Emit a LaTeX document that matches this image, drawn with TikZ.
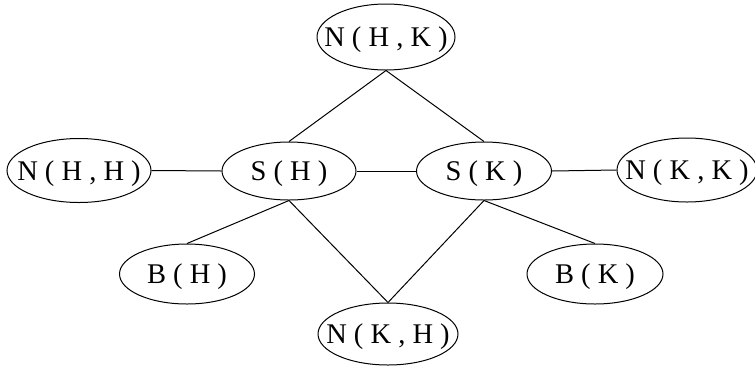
\documentclass[tikz,border=0pt]{standalone}
\usepackage{fontspec}
\setmainfont{Liberation Serif}
\usetikzlibrary{shapes.geometric}
\newcommand{\ellab}[1]{\makebox[0pt]{#1}}
\begin{document}
\begin{tikzpicture}[x=1pt,y=-1pt,
  ell/.style={draw, ellipse, line width=1pt, inner sep=0pt,
    text height=19pt, text depth=0pt,
    font=\fontsize{28.5}{32}\selectfont},
  edge/.style={draw, line width=1pt}]
\useasboundingbox (0,0) rectangle (755,365);
\node[ell, minimum width=138pt, minimum height=66pt] (NHK) at (386,37) {\ellab{N ( H , K )}};
\node[ell, minimum width=144pt, minimum height=64pt] (NHH) at (79,170.5) {\ellab{N ( H , H )}};
\node[ell, minimum width=134pt, minimum height=58pt] (SH) at (289,171) {\ellab{S ( H )}};
\node[ell, minimum width=135pt, minimum height=58pt] (SK) at (484,171) {\ellab{S ( K )}};
\node[ell, minimum width=140pt, minimum height=64pt] (NKK) at (687,170) {\ellab{N ( K , K )}};
\node[ell, minimum width=135pt, minimum height=60pt] (BH) at (187,274) {\ellab{B ( H )}};
\node[ell, minimum width=136pt, minimum height=60pt] (BK) at (595,274) {\ellab{B ( K )}};
\node[ell, minimum width=140pt, minimum height=62pt] (NKH) at (388,334) {\ellab{N ( K , H )}};
\draw[edge] (NHK.south) -- (SH.north);
\draw[edge] (NHK.south) -- (SK.north);
\draw[edge] (NHH.east) -- (SH.west);
\draw[edge] (SH.east) -- (SK.west);
\draw[edge] (SK.east) -- (NKK.west);
\draw[edge] (SH.south) -- (BH.north);
\draw[edge] (SH.south) -- (NKH.north);
\draw[edge] (SK.south) -- (NKH.north);
\draw[edge] (SK.south) -- (BK.north);
\end{tikzpicture}
\end{document}
